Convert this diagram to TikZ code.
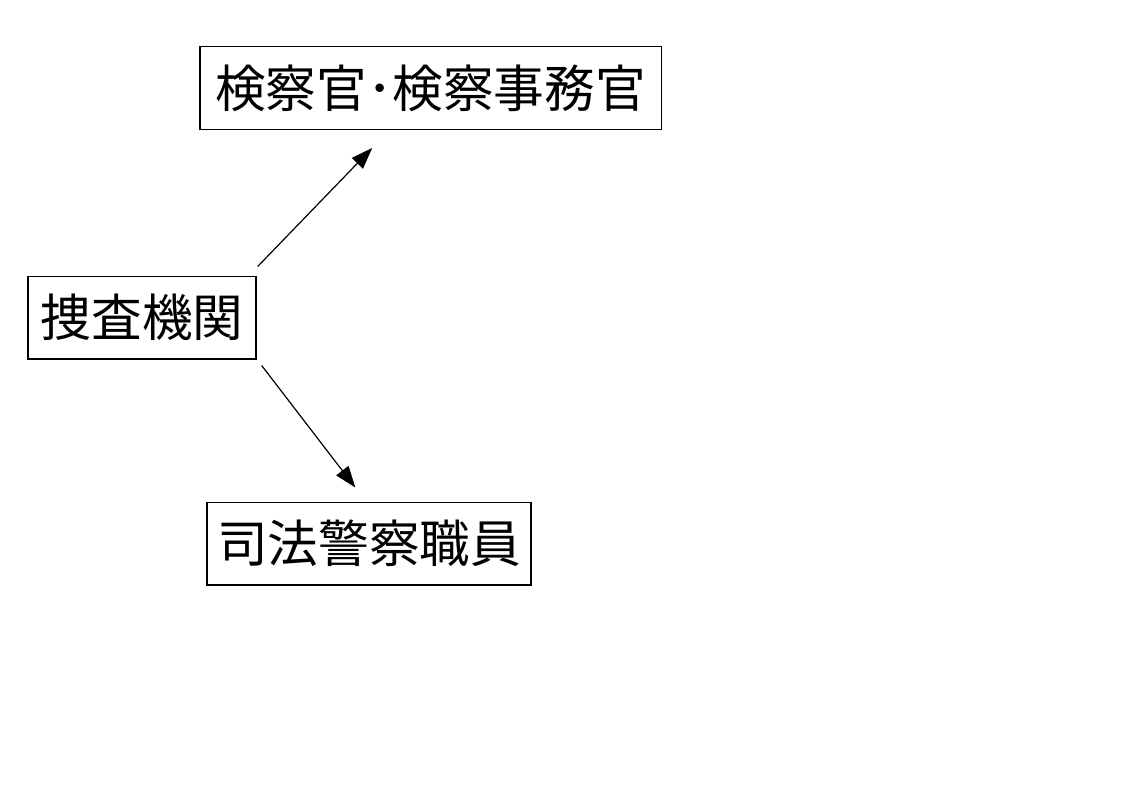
\documentclass[tikz,border=0pt]{standalone}
\usepackage{fontspec}
\newfontfamily\jpfont{Noto Sans CJK JP}
\usepackage{tikz}
\usetikzlibrary{positioning, arrows.meta}

\begin{document}
\begin{tikzpicture}[
    x=0.75pt, y=-0.75pt,
    every node/.style={draw, rectangle, line width=1pt, minimum height=62pt, inner sep=0pt, font=\jpfont\fontsize{38}{42}\selectfont},
    arrow/.style={-{Triangle[length=16pt, width=11.5pt]}, line width=0.9pt, draw=black}
]
\useasboundingbox (0,0) rectangle (1123,794);

\node[minimum width=346pt] (kensatsu) at (430.5,88) {検察官･検察事務官};
\node[minimum width=171pt] (sousa) at (142,317.5) {捜査機関};
\node[minimum width=243pt] (shihou) at (369,543.5) {司法警察職員};

\draw[arrow] ([shift={(1,-9)}]sousa.north east) -- ([shift={(173,18)}]kensatsu.south west);
\draw[arrow] ([shift={(5,6)}]sousa.south east) -- ([shift={(149,-14)}]shihou.north west);
\end{tikzpicture}
\end{document}
